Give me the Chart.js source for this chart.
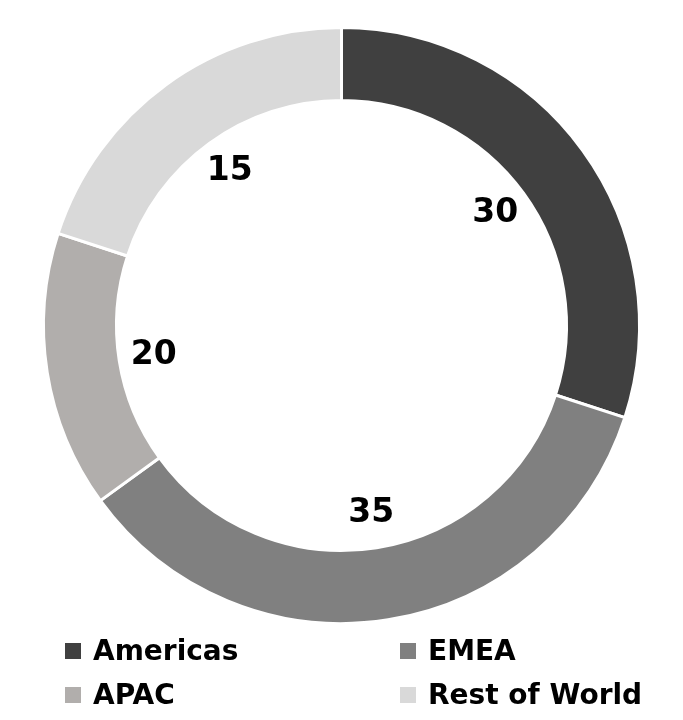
<!DOCTYPE html>
<html>
<head>
<meta charset="utf-8">
<script src="https://cdn.jsdelivr.net/npm/chart.js@4"></script>
<style>
  html, body { margin: 0; padding: 0; background: #fff; }
  #wrap { position: relative; width: 683px; height: 630px; }
  #legend {
    position: absolute;
    left: 65px;
    top: 629px;
    display: grid;
    grid-template-columns: 335px 280px;
    font-family: "DejaVu Sans", sans-serif;
    font-weight: 700;
    font-size: 28px;
    color: #000;
  }
  .item { display: flex; align-items: center; height: 44px; line-height: 44px; }
  .box { width: 16px; height: 16px; margin-right: 12px; flex: none; }
</style>
</head>
<body>
<div id="wrap"><canvas id="chart"></canvas></div>
<div id="legend"></div>
<script>
// Dados do gráfico
const regions = ['Americas', 'EMEA', 'APAC', 'Rest of World'];
// tamanho dos arcos como desenhados na figura
const arcValues = [30, 35, 15, 20];
// números impressos em cada fatia (a figura traz estes)
const printedValues = [30, 35, 20, 15];
const sliceColors = ['#404040', '#808080', '#b1aeac', '#d9d9d9'];

// Rótulos de valor dentro do furo, junto à borda interna
const sliceLabels = {
  id: 'sliceLabels',
  afterDatasetsDraw(chart) {
    const ctx = chart.ctx;
    const meta = chart.getDatasetMeta(0);
    ctx.save();
    ctx.font = 'bold 33px "DejaVu Sans", sans-serif';
    ctx.fillStyle = '#000';
    ctx.textAlign = 'center';
    ctx.textBaseline = 'middle';
    meta.data.forEach((arc, i) => {
      const mid = (arc.startAngle + arc.endAngle) / 2;
      const r = arc.innerRadius * 0.845;
      ctx.fillText(String(printedValues[i]), arc.x + Math.cos(mid) * r, arc.y + Math.sin(mid) * r);
    });
    ctx.restore();
  }
};

const chart = new Chart(document.getElementById('chart'), {
  type: 'doughnut',
  data: {
    labels: regions,
    datasets: [{
      data: arcValues,
      backgroundColor: sliceColors,
      borderColor: '#fff',
      borderWidth: 3,
    }]
  },
  options: {
    responsive: true,
    maintainAspectRatio: false,
    animation: false,
    cutout: '75.5%',
    layout: { padding: { top: 26, bottom: 5 } },
    plugins: {
      legend: { display: false },
      tooltip: { enabled: false },
    }
  },
  plugins: [sliceLabels]
});

// Legenda em HTML, duas colunas
const legend = document.getElementById('legend');
regions.forEach((name, i) => {
  const item = document.createElement('div');
  item.className = 'item';
  const box = document.createElement('span');
  box.className = 'box';
  box.style.background = sliceColors[i];
  const text = document.createElement('span');
  text.textContent = name;
  item.appendChild(box);
  item.appendChild(text);
  legend.appendChild(item);
});
</script>
</body>
</html>
